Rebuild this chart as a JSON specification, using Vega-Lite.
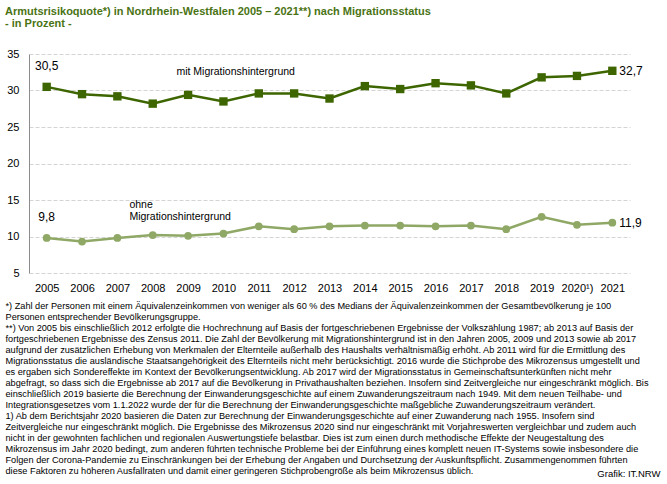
{
  "$schema": "https://vega.github.io/schema/vega-lite/v6.json",
  "width": 601,
  "height": 219,
  "autosize": "none",
  "padding": {"left": 29, "top": 54, "right": 37, "bottom": 211},
  "background": "white",
  "config": {
    "view": {"stroke": null},
    "locale": {"number": {"decimal": ",", "thousands": ".", "grouping": [3], "currency": ["", " €"]}},
    "font": "Liberation Sans, Arial, sans-serif"
  },
  "title": {
    "text": ["Armutsrisikoquote*) in Nordrhein-Westfalen  2005 – 2021**) nach Migrationsstatus", "- in Prozent -"],
    "anchor": "start",
    "frame": "group",
    "dx": -24,
    "offset": 19,
    "fontSize": 11,
    "lineHeight": 12,
    "fontWeight": "bold",
    "color": "#4a7314",
    "font": "Liberation Sans, Arial, sans-serif"
  },
  "data": {
    "values": [
      {"year": "2005", "series": "mit", "value": 30.5},
      {"year": "2006", "series": "mit", "value": 29.5},
      {"year": "2007", "series": "mit", "value": 29.2},
      {"year": "2008", "series": "mit", "value": 28.2},
      {"year": "2009", "series": "mit", "value": 29.4},
      {"year": "2010", "series": "mit", "value": 28.5},
      {"year": "2011", "series": "mit", "value": 29.6},
      {"year": "2012", "series": "mit", "value": 29.6},
      {"year": "2013", "series": "mit", "value": 28.9},
      {"year": "2014", "series": "mit", "value": 30.6},
      {"year": "2015", "series": "mit", "value": 30.2},
      {"year": "2016", "series": "mit", "value": 31.0},
      {"year": "2017", "series": "mit", "value": 30.7},
      {"year": "2018", "series": "mit", "value": 29.6},
      {"year": "2019", "series": "mit", "value": 31.8},
      {"year": "2020", "series": "mit", "value": 32.0},
      {"year": "2021", "series": "mit", "value": 32.7},
      {"year": "2005", "series": "ohne", "value": 9.8},
      {"year": "2006", "series": "ohne", "value": 9.3},
      {"year": "2007", "series": "ohne", "value": 9.8},
      {"year": "2008", "series": "ohne", "value": 10.2},
      {"year": "2009", "series": "ohne", "value": 10.1},
      {"year": "2010", "series": "ohne", "value": 10.4},
      {"year": "2011", "series": "ohne", "value": 11.4},
      {"year": "2012", "series": "ohne", "value": 11.0},
      {"year": "2013", "series": "ohne", "value": 11.4},
      {"year": "2014", "series": "ohne", "value": 11.5},
      {"year": "2015", "series": "ohne", "value": 11.5},
      {"year": "2016", "series": "ohne", "value": 11.4},
      {"year": "2017", "series": "ohne", "value": 11.5},
      {"year": "2018", "series": "ohne", "value": 11.0},
      {"year": "2019", "series": "ohne", "value": 12.7},
      {"year": "2020", "series": "ohne", "value": 11.6},
      {"year": "2021", "series": "ohne", "value": 11.9}
    ]
  },
  "encoding": {
    "x": {
      "field": "year",
      "type": "ordinal",
      "scale": {"type": "point", "padding": 0.5},
      "axis": {
        "domain": false,
        "ticks": false,
        "grid": false,
        "labelAngle": 0,
        "labelFontSize": 11,
        "labelColor": "#000000",
        "labelPadding": 9,
        "labelExpr": "datum.value == '2020' ? '2020¹)' : datum.value",
        "title": [
          "*) Zahl der Personen mit einem Äquivalenzeinkommen von weniger als 60 % des Medians der Äquivalenzeinkommen der Gesamtbevölkerung je 100",
          "Personen entsprechender Bevölkerungsgruppe.",
          "**) Von 2005 bis einschließlich 2012 erfolgte die Hochrechnung auf Basis der fortgeschriebenen Ergebnisse der Volkszählung 1987; ab 2013 auf Basis der",
          "fortgeschriebenen Ergebnisse des Zensus 2011. Die Zahl der Bevölkerung mit Migrationshintergrund ist in den Jahren 2005, 2009 und 2013 sowie ab 2017",
          "aufgrund der zusätzlichen Erhebung von Merkmalen der Elternteile außerhalb des Haushalts verhältnismäßig erhöht. Ab 2011 wird für die Ermittlung des",
          "Migrationsstatus die ausländische Staatsangehörigkeit des Elternteils nicht mehr berücksichtigt. 2016 wurde die Stichprobe des Mikrozensus umgestellt und",
          "es ergaben sich Sondereffekte im Kontext der Bevölkerungsentwicklung. Ab 2017 wird der Migrationsstatus in Gemeinschaftsunterkünften nicht mehr",
          "abgefragt, so dass sich die Ergebnisse ab 2017 auf die Bevölkerung in Privathaushalten beziehen. Insofern sind Zeitvergleiche nur eingeschränkt möglich. Bis",
          "einschließlich 2019 basierte die Berechnung der Einwanderungsgeschichte auf einem Zuwanderungszeitraum nach 1949. Mit dem neuen Teilhabe- und",
          "Integrationsgesetzes vom 1.1.2022 wurde der für die Berechnung der Einwanderungsgeschichte maßgebliche Zuwanderungszeitraum verändert.",
          "1) Ab dem Berichtsjahr 2020 basieren die Daten zur Berechnung der Einwanderungsgeschichte auf einer Zuwanderung nach 1955. Insofern sind",
          "Zeitvergleiche nur eingeschränkt möglich. Die Ergebnisse des Mikrozensus 2020 sind nur eingeschränkt mit Vorjahreswerten vergleichbar und zudem auch",
          "nicht in der gewohnten fachlichen und regionalen Auswertungstiefe belastbar. Dies ist zum einen durch methodische Effekte der Neugestaltung des",
          "Mikrozensus im Jahr 2020 bedingt, zum anderen führten technische Probleme bei der Einführung eines komplett neuen IT-Systems sowie insbesondere die",
          "Folgen der Corona-Pandemie zu Einschränkungen bei der Erhebung der Angaben und Durchsetzung der Auskunftspflicht. Zusammengenommen führten",
          "diese Faktoren zu höheren Ausfallraten und damit einer geringeren Stichprobengröße als beim Mikrozensus üblich."
        ],
        "titleFontSize": 9.2,
        "titleFontWeight": "normal",
        "titleColor": "#000000",
        "titleLineHeight": 11,
        "titleAnchor": "start",
        "titleAlign": "left",
        "titleBaseline": "top",
        "titleX": -24,
        "titleY": 28
      }
    },
    "y": {
      "field": "value",
      "type": "quantitative",
      "scale": {"domain": [5, 35], "nice": false, "zero": false},
      "axis": {
        "values": [5, 10, 15, 20, 25, 30, 35],
        "domain": true,
        "domainColor": "#8c8c8c",
        "ticks": false,
        "grid": true,
        "gridColor": "#d4d4d4",
        "gridDash": [4, 2],
        "gridWidth": 1,
        "labelFontSize": 11,
        "labelColor": "#000000",
        "labelPadding": 10,
        "title": "Grafik: IT.NRW",
        "titleAngle": 0,
        "titleFontSize": 9.5,
        "titleFontWeight": "normal",
        "titleColor": "#000000",
        "titleAlign": "right",
        "titleBaseline": "middle",
        "titleX": 631,
        "titleY": 419
      }
    }
  },
  "layer": [
    {
      "mark": {"type": "line", "strokeWidth": 2.5},
      "encoding": {
        "color": {
          "field": "series",
          "type": "nominal",
          "scale": {"domain": ["mit", "ohne"], "range": ["#3d6600", "#8fa866"]},
          "legend": null
        }
      }
    },
    {
      "mark": {"type": "point", "filled": true, "opacity": 1},
      "encoding": {
        "color": {
          "field": "series",
          "type": "nominal",
          "scale": {"domain": ["mit", "ohne"], "range": ["#3d6600", "#8fa866"]},
          "legend": null
        },
        "shape": {
          "field": "series",
          "type": "nominal",
          "scale": {"domain": ["mit", "ohne"], "range": ["square", "circle"]},
          "legend": null
        },
        "size": {
          "field": "series",
          "type": "nominal",
          "scale": {"domain": ["mit", "ohne"], "range": [70, 60]},
          "legend": null
        }
      }
    },
    {
      "transform": [{"filter": "datum.year == '2005'"}],
      "mark": {"type": "text", "dy": -21, "fontSize": 12, "color": "#000000"},
      "encoding": {
        "text": {"field": "value", "type": "quantitative", "format": ".1f"}
      }
    },
    {
      "transform": [{"filter": "datum.year == '2021'"}],
      "mark": {"type": "text", "dx": 7, "align": "left", "fontSize": 12, "color": "#000000"},
      "encoding": {
        "text": {"field": "value", "type": "quantitative", "format": ".1f"}
      }
    },
    {
      "transform": [{"filter": "datum.year == '2010' && datum.series == 'mit'"}],
      "mark": {"type": "text", "align": "left", "dx": -47, "dy": -29, "fontSize": 10.5, "color": "#000000"},
      "encoding": {
        "text": {"value": "mit Migrationshintergrund"}
      }
    },
    {
      "transform": [{"filter": "datum.year == '2007' && datum.series == 'ohne'"}],
      "mark": {"type": "text", "align": "left", "dx": 12, "dy": -33, "fontSize": 10.5, "color": "#000000"},
      "encoding": {
        "text": {"value": "ohne"}
      }
    },
    {
      "transform": [{"filter": "datum.year == '2007' && datum.series == 'ohne'"}],
      "mark": {"type": "text", "align": "left", "dx": 12, "dy": -21, "fontSize": 10.5, "color": "#000000"},
      "encoding": {
        "text": {"value": "Migrationshintergrund"}
      }
    }
  ]
}
